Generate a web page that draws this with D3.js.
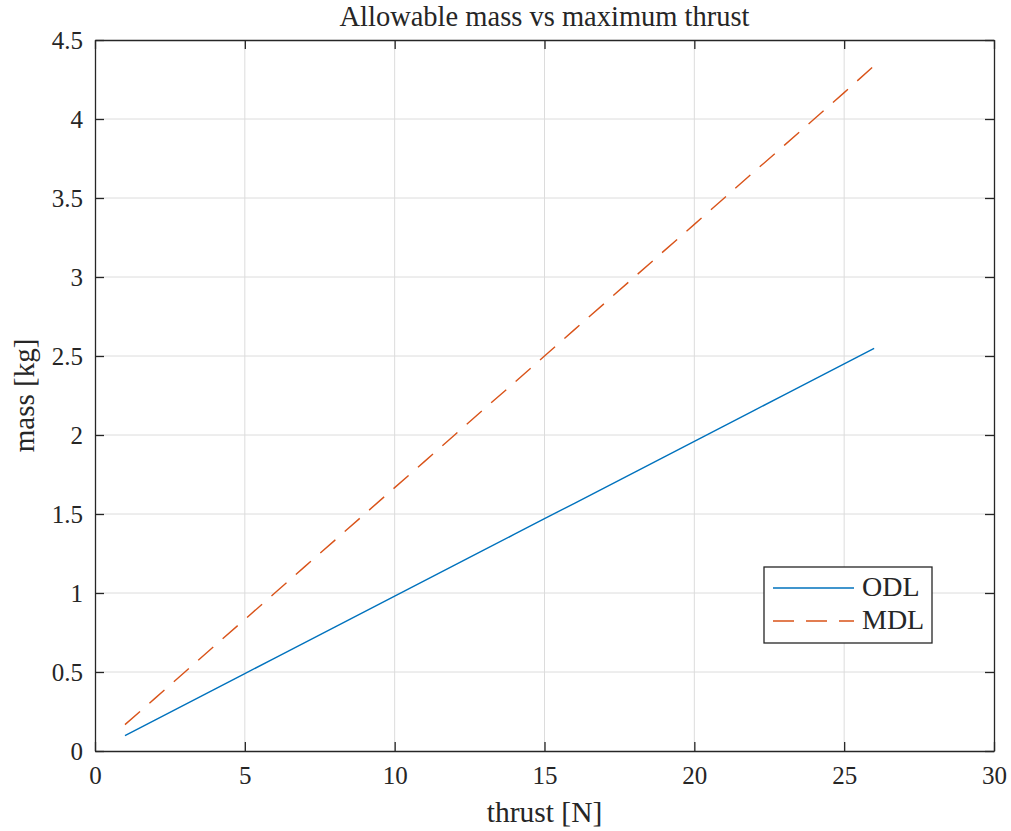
<!DOCTYPE html>
<html>
<head>
<meta charset="utf-8">
<script src="https://cdn.jsdelivr.net/npm/d3@7"></script>
<style>
  html, body { margin: 0; padding: 0; background: #fff; }
  svg { display: block; }
  text { font-family: "Liberation Serif", "DejaVu Serif", serif; fill: #262626; }
</style>
</head>
<body>
<svg id="chart" width="1011" height="831"></svg>
<script>
// ---- data ----
const thrust = [1, 2, 3, 4, 5, 6, 7, 8, 9, 10, 11, 12, 13, 14, 15, 16, 17, 18, 19, 20, 21, 22, 23, 24, 25, 26];
const odl = [0.098, 0.196, 0.294, 0.392, 0.490, 0.588, 0.686, 0.784, 0.882, 0.980, 1.078, 1.176, 1.274,
             1.372, 1.470, 1.568, 1.666, 1.764, 1.862, 1.960, 2.058, 2.156, 2.254, 2.352, 2.450, 2.549];
const mdl = [0.167, 0.333, 0.500, 0.667, 0.833, 1.000, 1.167, 1.333, 1.500, 1.667, 1.833, 2.000, 2.167,
             2.333, 2.500, 2.667, 2.833, 3.000, 3.167, 3.333, 3.500, 3.667, 3.833, 4.000, 4.167, 4.337];
const xTicks = [0, 5, 10, 15, 20, 25, 30];
const yTicks = [0, 0.5, 1, 1.5, 2, 2.5, 3, 3.5, 4, 4.5];
const seriesNames = ["ODL", "MDL"];
const titleText = "Allowable mass vs maximum thrust";
const xLabel = "thrust [N]";
const yLabel = "mass [kg]";

// ---- layout ----
const L = 95, R = 994, T = 40, B = 751;
const svg = d3.select("#chart");
const x = d3.scaleLinear().domain([0, 30]).range([L, R]);
const y = d3.scaleLinear().domain([0, 4.5]).range([B, T]);
const axisColor = "#262626";
const colors = ["#0072BD", "#D95319"];
const dashes = [null, "20,12.5"];

// grid
const grid = svg.append("g");
grid.selectAll(".gx").data(xTicks.slice(1, -1)).enter().append("line")
  .attr("x1", d => x(d)).attr("x2", d => x(d)).attr("y1", T).attr("y2", B)
  .attr("stroke", "#dcdcdc").attr("stroke-width", 1);
grid.selectAll(".gy").data(yTicks.slice(1, -1)).enter().append("line")
  .attr("y1", d => y(d)).attr("y2", d => y(d)).attr("x1", L).attr("x2", R)
  .attr("stroke", "#dcdcdc").attr("stroke-width", 1);

// lines
const line = d3.line().x(d => x(d[0])).y(d => y(d[1]));
[odl, mdl].forEach((vals, i) => {
  svg.append("path")
    .datum(thrust.map((t, k) => [t, vals[k]]))
    .attr("d", line)
    .attr("fill", "none")
    .attr("stroke", colors[i])
    .attr("stroke-width", 1.4)
    .attr("stroke-dasharray", dashes[i]);
});

// axes (inward ticks on all sides)
const tickLen = 9;
const fs = 25;
const xAxisB = d3.axisBottom(x).tickValues(xTicks).tickSizeInner(-tickLen).tickSizeOuter(0).tickPadding(18).tickFormat(d3.format("d"));
const xAxisT = d3.axisTop(x).tickValues(xTicks).tickSizeInner(-tickLen).tickSizeOuter(0).tickFormat("");
const yAxisL = d3.axisLeft(y).tickValues(yTicks).tickSizeInner(-tickLen).tickSizeOuter(0).tickPadding(21).tickFormat(d => String(d));
const yAxisR = d3.axisRight(y).tickValues(yTicks).tickSizeInner(-tickLen).tickSizeOuter(0).tickFormat("");

function styleAxis(g) {
  g.select(".domain").attr("stroke", axisColor).attr("stroke-width", 1.3);
  g.selectAll(".tick line").attr("stroke", axisColor).attr("stroke-width", 1.3);
  g.selectAll(".tick text").attr("fill", axisColor).style("font-family", "Liberation Serif, serif").style("font-size", fs + "px");
}
const gxb = svg.append("g").attr("transform", `translate(0,${B})`).call(xAxisB).call(styleAxis);
gxb.selectAll(".tick text").attr("dy", "0.71em").attr("y", 15);
svg.append("g").attr("transform", `translate(0,${T})`).call(xAxisT).call(styleAxis);
const gyl = svg.append("g").attr("transform", `translate(${L},0)`).call(yAxisL).call(styleAxis);
gyl.selectAll(".tick text").attr("x", -12).attr("dy", "0.34em");
svg.append("g").attr("transform", `translate(${R},0)`).call(yAxisR).call(styleAxis);

// title & labels
svg.append("text").attr("x", (L + R) / 2).attr("y", 26).attr("text-anchor", "middle")
  .style("font-size", "28.5px").text(titleText);
svg.append("text").attr("x", (L + R) / 2).attr("y", 822).attr("text-anchor", "middle")
  .style("font-size", "29.5px").text(xLabel);
svg.append("text").attr("transform", `translate(34,${(T + B) / 2}) rotate(-90)`).attr("text-anchor", "middle")
  .style("font-size", "29px").text(yLabel);

// legend
const lg = svg.append("g");
lg.append("rect").attr("x", 764).attr("y", 567).attr("width", 168).attr("height", 76)
  .attr("fill", "#fff").attr("stroke", axisColor).attr("stroke-width", 1.3);
seriesNames.forEach((name, i) => {
  const ly = 588 + i * 33;
  lg.append("line").attr("x1", 773).attr("x2", 854).attr("y1", ly).attr("y2", ly)
    .attr("stroke", colors[i]).attr("stroke-width", 1.4).attr("stroke-dasharray", dashes[i] ? "21,12" : null);
  lg.append("text").attr("x", 862).attr("y", ly + 8).style("font-size", "28px").text(name);
});
</script>
</body>
</html>
